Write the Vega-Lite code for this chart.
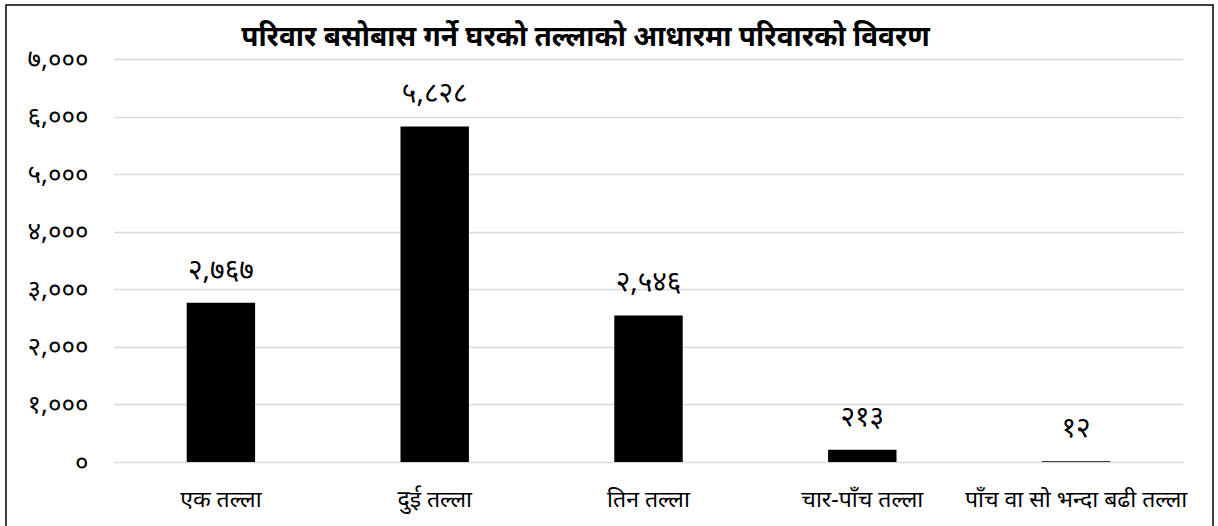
{
  "$schema": "https://vega.github.io/schema/vega-lite/v6.json",
  "width": 1207,
  "height": 523,
  "autosize": {"type": "none"},
  "padding": {"left": 6, "top": 5, "right": 5, "bottom": -2},
  "background": "#ffffff",
  "title": {
    "text": "परिवार बसोबास गर्ने घरको तल्लाको आधारमा परिवारको विवरण",
    "fontSize": 28,
    "fontWeight": "bold",
    "font": "Noto Sans",
    "color": "#000000",
    "anchor": "middle",
    "baseline": "alphabetic",
    "offset": -42,
    "dx": -24,
    "dy": 27
  },
  "config": {
    "view": {"stroke": "#000000", "strokeWidth": 1.5},
    "font": "Noto Sans"
  },
  "data": {
    "values": [
      {"floor": "एक तल्ला", "households": 2767, "label": "२,७६७"},
      {"floor": "दुई तल्ला", "households": 5828, "label": "५,८२८"},
      {"floor": "तिन तल्ला", "households": 2546, "label": "२,५४६"},
      {"floor": "चार-पाँच तल्ला", "households": 213, "label": "२१३"},
      {"floor": "पाँच वा सो भन्दा बढी तल्ला", "households": 12, "label": "१२"}
    ]
  },
  "encoding": {
    "x": {
      "field": "floor",
      "type": "nominal",
      "sort": null,
      "scale": {"range": [108, 1177], "paddingInner": 0.68, "paddingOuter": 0.34},
      "axis": {
        "title": null,
        "orient": "bottom",
        "offset": -66,
        "domain": false,
        "ticks": false,
        "labelAngle": 0,
        "labelFontSize": 23,
        "labelColor": "#000000",
        "labelPadding": 26,
        "labelOverlap": false,
        "labelLimit": 0,
        "labelBaseline": "top"
      }
    },
    "y": {
      "field": "households",
      "type": "quantitative",
      "scale": {"domain": [0, 7000], "range": [457, 54], "nice": false, "zero": true},
      "axis": {
        "title": null,
        "orient": "left",
        "offset": -108,
        "values": [0, 1000, 2000, 3000, 4000, 5000, 6000, 7000],
        "format": ",d",
        "domain": false,
        "ticks": false,
        "grid": true,
        "gridColor": "#d9d9d9",
        "gridWidth": 1.5,
        "labelFontSize": 26,
        "labelColor": "#000000",
        "labelPadding": 26,
        "labelExpr": "replace(replace(replace(replace(replace(replace(replace(replace(replace(replace(datum.label, regexp('0','g'), '०'), regexp('1','g'), '१'), regexp('2','g'), '२'), regexp('3','g'), '३'), regexp('4','g'), '४'), regexp('5','g'), '५'), regexp('6','g'), '६'), regexp('7','g'), '७'), regexp('8','g'), '८'), regexp('9','g'), '९')"
      }
    }
  },
  "layer": [
    {"mark": {"type": "bar", "color": "#000000"}},
    {
      "mark": {"type": "text", "fontSize": 28, "color": "#000000", "baseline": "alphabetic", "dy": -24},
      "encoding": {"text": {"field": "label", "type": "nominal"}}
    }
  ]
}
